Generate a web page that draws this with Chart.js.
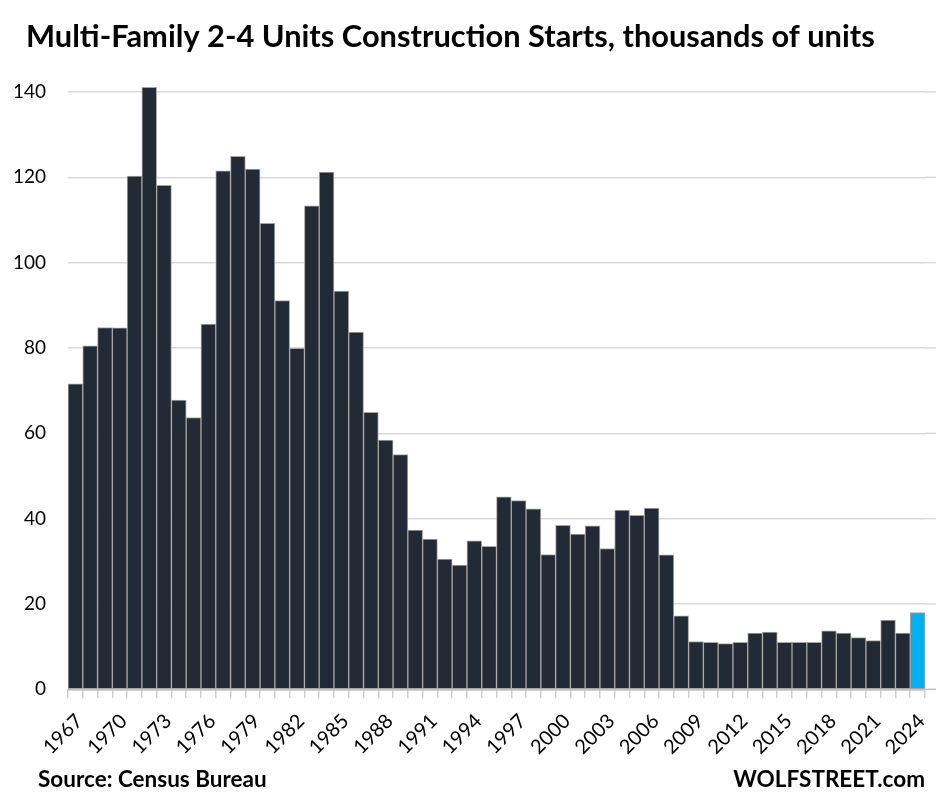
<!DOCTYPE html>
<html>
<head>
<meta charset="utf-8">
<script src="https://cdn.jsdelivr.net/npm/chart.js@4.4.1/dist/chart.umd.min.js"></script>
<style>
  html, body { margin: 0; padding: 0; background: #fff; overflow: hidden; }
  #wrap { position: relative; width: 936px; height: 804px; }
</style>
</head>
<body>
<div id="wrap"><canvas id="startsChart"></canvas></div>
<script>
// Datos: inicios de construcción multifamiliar 2-4 unidades (miles)
const years = [];
for (let y = 1967; y <= 2024; y++) years.push(String(y));

const starts = [
    71.6, 80.5, 84.8, 84.7, 120.3, 141.1, 118.1, 67.8, 63.7, 85.6,
    121.5, 124.9, 121.9, 109.2, 91.1, 79.9, 113.3, 121.2, 93.3, 83.7,
    64.9, 58.4, 55.0, 37.3, 35.2, 30.5, 29.1, 34.8, 33.5, 45.1,
    44.2, 42.3, 31.6, 38.4, 36.4, 38.3, 33.0, 42.0, 40.8, 42.5,
    31.5, 17.2, 11.2, 11.0, 10.7, 11.0, 13.2, 13.4, 11.0, 11.0,
    11.0, 13.7, 13.2, 12.1, 11.4, 16.2, 13.2, 18.0
];

const yTicks = [0, 20, 40, 60, 80, 100, 120, 140];

const titleText = 'Multi-Family 2-4 Units Construction Starts, thousands of units';
const sourceText = 'Source: Census Bureau';
const brandText = 'WOLFSTREET.com';

const barColor = '#222a35';
const lastColor = '#00b0f0';
const fontFamily = 'Lato, "Open Sans", sans-serif';

// Título y pie de página
const textosPlugin = {
    id: 'textos',
    afterDraw(chart) {
        const ctx = chart.ctx;
        ctx.save();
        ctx.fillStyle = '#000';
        ctx.textBaseline = 'alphabetic';
        ctx.font = `bold 30.8px ${fontFamily}`;
        ctx.textAlign = 'left';
        ctx.fillText(titleText, 26, 47);
        ctx.font = `bold 22.5px ${fontFamily}`;
        ctx.fillText(sourceText, 38, 787);
        ctx.textAlign = 'right';
        ctx.fillText(brandText, 925, 787);
        ctx.restore();
    }
};

// Las líneas de la cuadrícula siguen hasta el borde derecho
const extenderGrid = {
    id: 'extenderGrid',
    beforeDatasetsDraw(chart) {
        const ctx = chart.ctx;
        const area = chart.chartArea;
        const yScale = chart.scales.y;
        ctx.save();
        yScale.ticks.forEach(t => {
            const py = yScale.getPixelForValue(t.value);
            ctx.strokeStyle = t.value === 0 ? '#bfbfbf' : '#d9d9d9';
            ctx.lineWidth = 1.5;
            ctx.beginPath();
            ctx.moveTo(area.right, py);
            ctx.lineTo(chart.width, py);
            ctx.stroke();
        });
        ctx.restore();
    }
};

const ctx = document.getElementById('startsChart');
new Chart(ctx, {
    type: 'bar',
    data: {
        labels: years,
        datasets: [{
            data: starts,
            backgroundColor: years.map((y, i) => i === years.length - 1 ? lastColor : barColor),
            borderColor: '#a6a6a6',
            borderWidth: 1,
            borderSkipped: false,
            barPercentage: 1,
            categoryPercentage: 1
        }]
    },
    options: {
        responsive: true,
        maintainAspectRatio: false,
        animation: false,
        layout: { padding: { top: 70.6, right: 11, bottom: 34.7, left: 0 } },
        plugins: {
            legend: { display: false },
            title: { display: false },
            tooltip: { enabled: false }
        },
        scales: {
            x: {
                grid: {
                    display: true,
                    drawOnChartArea: false,
                    drawTicks: true,
                    tickLength: 9,
                    color: '#d0d0d0',
                    lineWidth: 1.5,
                    offset: true
                },
                border: { display: true, color: '#bfbfbf', width: 1.5 },
                ticks: {
                    autoSkip: false,
                    maxRotation: 45,
                    minRotation: 45,
                    padding: 11,
                    labelOffset: 4,
                    color: '#000',
                    font: { family: fontFamily, size: 20 },
                    callback: function(value, index) {
                        return index % 3 === 0 ? this.getLabelForValue(value) : '';
                    }
                },
                afterFit: scale => {
                    scale.height = 80;
                    scale.paddingRight = 0;
                    scale.paddingLeft = 0;
                }
            },
            y: {
                min: 0,
                max: 145,
                grid: { color: '#d9d9d9', lineWidth: 1.5, drawTicks: false },
                border: { display: false },
                ticks: {
                    padding: 22,
                    color: '#000',
                    font: { family: fontFamily, size: 19 }
                },
                afterBuildTicks: scale => {
                    scale.ticks = yTicks.map(v => ({ value: v }));
                },
                afterFit: scale => { scale.width = 68; }
            }
        }
    },
    plugins: [textosPlugin, extenderGrid]
});
</script>
</body>
</html>
